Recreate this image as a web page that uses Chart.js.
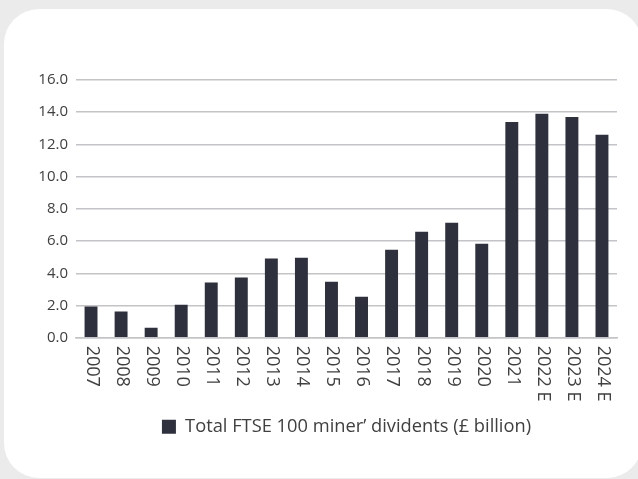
<!DOCTYPE html>
<html>
<head>
<meta charset="utf-8">
<script src="https://cdn.jsdelivr.net/npm/chart.js@4.4.1/dist/chart.umd.min.js"></script>
<style>
  html, body { margin: 0; padding: 0; background: #ebebeb; }
  body { width: 638px; height: 479px; overflow: hidden; position: relative; }
  .card { position: absolute; left: 4px; top: 9px; width: 638px; height: 469px; background: #fff; border-radius: 35px; }
  #wrap { position: absolute; left: 0; top: 0; width: 638px; height: 479px; }
</style>
</head>
<body>
<div class="card"></div>
<div id="wrap"><canvas id="chart"></canvas></div>
<script>
// === data ===
const years = ['2007','2008','2009','2010','2011','2012','2013','2014','2015','2016','2017','2018','2019','2020','2021','2022 E','2023 E','2024 E'];
const dividends = [1.93, 1.62, 0.62, 2.05, 3.42, 3.73, 4.91, 4.97, 3.48, 2.55, 5.46, 6.58, 7.13, 5.83, 13.4, 13.9, 13.7, 12.6];
const seriesName = 'Total FTSE 100 miner\u2019 dividents (\u00a3 billion)';
const yMin = 0, yMax = 16, yStep = 2;

const FONT = '"Open Sans", "DejaVu Sans", sans-serif';
const TXT = '#404040';
const BAR = '#2e313d';
const GRID = '#c4c4c8';

// x labels read top-to-bottom (rotated clockwise), Chart.js only rotates the other way
const downLabels = {
  id: 'downLabels',
  afterDraw(chart) {
    const sc = chart.scales.x;
    const c = chart.ctx;
    c.save();
    c.font = '18px ' + FONT;
    c.fillStyle = TXT;
    c.textAlign = 'left';
    c.textBaseline = 'middle';
    years.forEach((lab, i) => {
      const x = sc.getPixelForTick(i);
      c.save();
      c.translate(x + 1, sc.top + 8);
      c.rotate(Math.PI / 2);
      c.fillText(lab, 0, 0);
      c.restore();
    });
    c.restore();
  }
};

new Chart(document.getElementById('chart'), {
  type: 'bar',
  data: {
    labels: years,
    datasets: [{
      label: seriesName,
      data: dividends,
      backgroundColor: BAR,
      borderWidth: 0,
      barPercentage: 0.86,
      categoryPercentage: 0.5
    }]
  },
  options: {
    responsive: true,
    maintainAspectRatio: false,
    animation: false,
    layout: { padding: { top: 80, left: 36, right: 21, bottom: 33 } },
    plugins: {
      legend: {
        position: 'bottom',
        fullSize: false,
        labels: {
          font: { family: FONT, size: 18.3 },
          color: TXT,
          boxWidth: 14,
          boxHeight: 14,
          padding: 7
        }
      },
      tooltip: { enabled: false }
    },
    scales: {
      x: {
        grid: { display: false, drawTicks: false },
        border: { display: true, color: GRID, width: 1.5 },
        ticks: { display: false, autoSkip: false },
        afterFit: s => { s.height = 73; }
      },
      y: {
        min: yMin,
        max: yMax,
        grid: { color: GRID, lineWidth: 1.5, drawTicks: false },
        border: { display: false },
        ticks: {
          stepSize: yStep,
          color: TXT,
          font: { family: FONT, size: 15 },
          padding: 8,
          callback: v => v.toFixed(1)
        },
        afterFit: s => { s.width = 40; }
      }
    }
  },
  plugins: [downLabels]
});
</script>
</body>
</html>
